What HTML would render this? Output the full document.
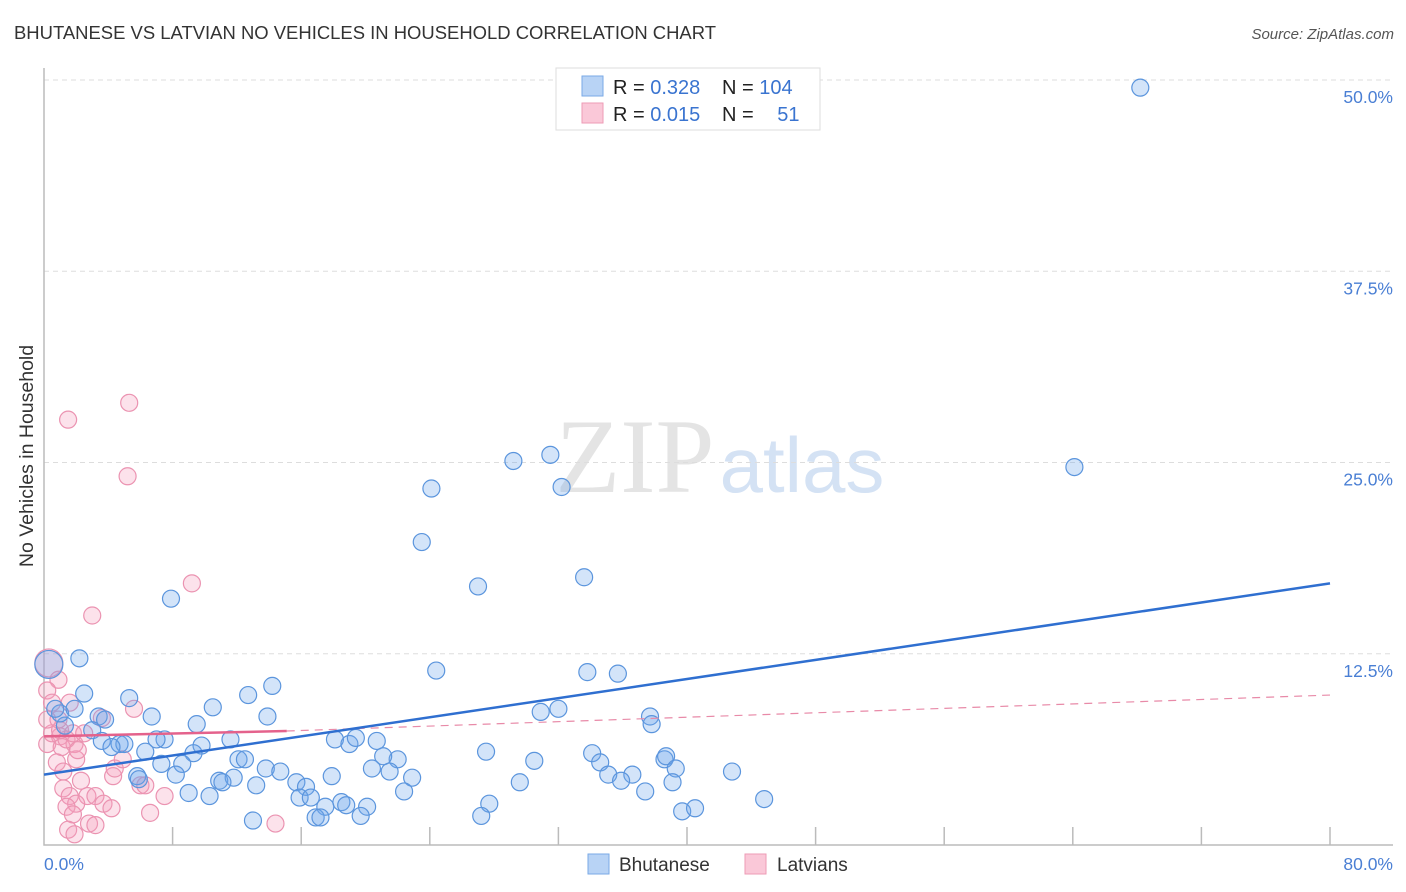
<!DOCTYPE html>
<html><head><meta charset="utf-8"><style>
body{margin:0;background:#fff;font-family:"Liberation Sans",sans-serif;}
svg{display:block}
</style></head><body>
<svg id="chart" width="1406" height="892">
<text x="14" y="39" font-size="18" fill="#333" textLength="702" lengthAdjust="spacingAndGlyphs">BHUTANESE VS LATVIAN NO VEHICLES IN HOUSEHOLD CORRELATION CHART</text>
<text x="1394" y="39" font-size="15" fill="#555" font-style="italic" text-anchor="end">Source: ZipAtlas.com</text>
<text x="33" y="456" font-size="19.5" fill="#333" text-anchor="middle" transform="rotate(-90 33 456)">No Vehicles in Household</text>
<g><text x="635" y="492" font-size="106" font-family="Liberation Serif,serif" fill="#e4e4e4" text-anchor="middle">ZIP</text><text x="802" y="492" font-size="78" fill="#d4e2f4" text-anchor="middle">atlas</text></g>
<g id="grid"></g><g id="axes"></g><g id="pts"></g><g id="trends"></g>
<g>
<rect x="556" y="68" width="264" height="62" fill="#fff" stroke="#ddd"/>
<rect x="582" y="76" width="21" height="20" fill="#b8d3f5" stroke="#7aa9e6"/>
<rect x="582" y="103" width="21" height="20" fill="#fac8d8" stroke="#ee9bb6"/>
<text x="613" y="94" font-size="20" fill="#222">R = <tspan fill="#3a74d0">0.328</tspan></text>
<text x="722" y="94" font-size="20" fill="#222">N = <tspan fill="#3a74d0">104</tspan></text>
<text x="613" y="121" font-size="20" fill="#222">R = <tspan fill="#3a74d0">0.015</tspan></text>
<text x="722" y="121" font-size="20" fill="#222">N = <tspan fill="#3a74d0" dx="18">51</tspan></text>
</g>
<g>
<rect x="588" y="854" width="21" height="20" fill="#b8d3f5" stroke="#7aa9e6"/>
<text x="619" y="871" font-size="19" fill="#333">Bhutanese</text>
<rect x="745" y="854" width="21" height="20" fill="#fac8d8" stroke="#ee9bb6"/>
<text x="777" y="871" font-size="19" fill="#333">Latvians</text>
</g>
</svg>
<script>
const yTicks=[12.5,25,37.5,50];
const yTickLabels=["12.5%","25.0%","37.5%","50.0%"];
const xTicks=[0,8,16,24,32,40,48,56,64,72,80];
const blueX=[68.2,64.1,31.5,29.2,32.2,24.1,23.5,27.0,33.6,7.9,2.2,24.4,33.8,35.7,2.5,5.3,12.7,14.2,10.5,30.9,32.0,37.7,37.8,6.7,13.9,9.5,3.4,1.3,3.0,1.0,3.6,4.7,5.0,7.5,11.6,9.8,9.3,7.0,6.3,18.1,19.0,19.4,20.7,27.5,34.1,30.5,38.6,38.7,34.6,22.0,21.1,12.1,12.5,8.6,7.3,5.8,8.2,13.8,14.7,20.4,21.5,22.9,35.1,36.6,35.9,39.3,42.8,17.9,5.9,10.9,11.8,11.1,13.2,15.7,16.3,15.9,16.6,9.0,10.3,29.6,39.1,37.4,22.4,27.7,44.8,18.5,18.8,17.5,20.1,16.9,17.2,19.7,13.0,27.2,39.7,40.5,3.8,4.2,0.3,0.7,1.9];
const blueY=[49.5,24.7,25.5,25.1,23.4,23.3,19.8,16.9,17.5,16.1,12.2,11.4,11.3,11.2,9.9,9.6,9.8,10.4,9.0,8.7,8.9,8.4,7.9,8.4,8.4,7.9,8.4,7.8,7.5,8.6,6.8,6.6,6.6,6.9,6.9,6.5,6.0,6.9,6.1,6.9,6.6,7.0,6.8,6.1,6.0,5.5,5.6,5.8,5.4,5.6,5.8,5.6,5.6,5.3,5.3,4.5,4.6,5.0,4.8,5.0,4.8,4.4,4.6,4.6,4.2,5.0,4.8,4.5,4.3,4.2,4.4,4.1,3.9,4.1,3.8,3.1,3.1,3.4,3.2,4.1,4.1,3.5,3.5,2.7,3.0,2.8,2.6,2.5,2.5,1.8,1.8,1.9,1.6,1.9,2.2,2.4,8.2,6.4,11.8,8.9,8.9];
const pinkX=[5.3,1.5,5.2,9.2,3.0,0.3,0.9,0.2,0.5,1.6,3.6,5.6,1.0,0.2,1.1,1.9,1.4,0.5,2.0,0.8,1.2,2.3,4.3,4.4,6.0,6.3,7.5,1.2,1.6,2.7,3.2,3.7,2.0,1.4,4.2,6.6,1.8,2.8,3.2,1.5,14.4,1.9,1.0,1.8,0.2,2.1,4.9,0.9,2.5];
const pinkY=[28.9,27.8,24.1,17.1,15.0,11.9,10.8,10.1,9.3,9.3,8.3,8.9,7.1,6.6,6.4,6.6,6.9,7.3,5.6,5.4,4.8,4.2,4.5,5.0,3.9,3.9,3.2,3.7,3.2,3.2,3.2,2.7,2.7,2.5,2.4,2.1,2.0,1.4,1.3,1.0,1.4,0.7,7.5,7.3,8.2,6.2,5.6,8.2,7.3];
const blueTrend=[[0,4.6],[80,17.1]];
const pinkTrendSolid=[[0,7.1],[15.1,7.45]];
const pinkTrendDash=[[15.1,7.45],[80,9.8]];
const NS="http://www.w3.org/2000/svg";
const X0=44,X1=1330,Y0=845,Y50=80;
function xs(v){return X0+(X1-X0)*v/80;}
function ys(v){return Y0-(Y0-Y50)*v/50;}
function mk(tag,attrs,parent){const e=document.createElementNS(NS,tag);for(const k in attrs)e.setAttribute(k,attrs[k]);document.getElementById(parent).appendChild(e);return e;}
yTicks.forEach((t,i)=>{
 const l=mk('line',{x1:X0,x2:1393,y1:ys(t),y2:ys(t),stroke:'#ddd','stroke-dasharray':'5,4'},'grid');
 
 
 const tx=mk('text',{x:1393,y:ys(t)+23,'font-size':17.5,fill:'#4a7fd4','text-anchor':'end'},'axes');
 tx.textContent=yTickLabels[i];
 
 
});
const ax=mk('path',{d:`M${X0},68 V${Y0} H1393`,stroke:'#bbb',fill:'none','stroke-width':1.5},'axes');


xTicks.slice(1).forEach(t=>{
 const l=mk('line',{x1:xs(t),x2:xs(t),y1:Y0-18,y2:Y0,stroke:'#bbb','stroke-width':1.5},'axes');
 
 
});
[[0,'0.0%','start',X0],[80,'80.0%','end',1393]].forEach(a=>{
 const tx=mk('text',{x:a[3],y:870,'font-size':17.5,fill:'#4a7fd4','text-anchor':a[2]},'axes');
 tx.textContent=a[1];
 
 
});
function dots(X,Y,fill,stroke,name){
 X.forEach((x,i)=>{
  const big=(x<0.5&&Y[i]>11);
  const c=mk('circle',{cx:xs(x),cy:ys(Y[i]),r:big?14:8.5,fill:fill,stroke:stroke,'stroke-width':1.2},'pts');
  
  
 });
}
dots(pinkX,pinkY,'rgba(244,160,190,0.3)','#eb93b1','latvian-point');
dots(blueX,blueY,'rgba(110,165,235,0.3)','#5b95dd','bhutanese-point');
function line(p,stroke,w,dash,name){
 const l=mk('line',{x1:xs(p[0][0]),y1:ys(p[0][1]),x2:xs(p[1][0]),y2:ys(p[1][1]),stroke:stroke,'stroke-width':w},'trends');
 if(dash)l.setAttribute('stroke-dasharray',dash);
 
 
}
line(pinkTrendDash,'#e88aa8',1.2,'8,6','latvian-trend-dashed');
line(pinkTrendSolid,'#e4628c',2.5,null,'latvian-trend');
line(blueTrend,'#2f6fd0',2.5,null,'bhutanese-trend');
</script>
</body></html>
